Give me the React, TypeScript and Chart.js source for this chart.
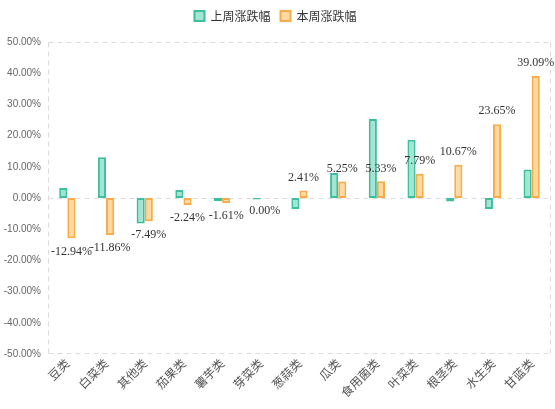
import React, { useEffect, useRef } from "react";
import { Chart, registerables } from "chart.js";

Chart.register(...registerables);

const categories = ["豆类", "白菜类", "其他类", "茄果类", "薯芋类", "芽菜类", "葱蒜类", "瓜类", "食用菌类", "叶菜类", "根茎类", "水生类", "甘蓝类"];
const lastWeek = [3.2, 13.1, -8.2, 2.6, -1.0, -0.5, -3.5, 8.0, 25.3, 18.7, -1.1, -3.5, 9.1];
const thisWeek = [-12.94, -11.86, -7.49, -2.24, -1.61, 0.0, 2.41, 5.25, 5.33, 7.79, 10.67, 23.65, 39.09];
const seriesNames = ["上周涨跌幅", "本周涨跌幅"];
const yMin = -50;
const yMax = 50;
const yStep = 10;

const framePlugin = {
  id: "frame",
  beforeDatasetsDraw(chart: any) {
    const { ctx, chartArea: a, scales } = chart;
    const y0 = Math.round(scales.y.getPixelForValue(0)) + 0.5;
    const l = Math.round(a.left) + 0.5;
    const r = Math.round(a.right) - 0.5;
    const t = Math.round(a.top) + 0.5;
    const b = Math.round(a.bottom) - 0.5;
    ctx.save();
    ctx.strokeStyle = "#dcdcdc";
    ctx.lineWidth = 1;
    ctx.setLineDash([5, 4]);
    ctx.beginPath();
    ctx.moveTo(l, t); ctx.lineTo(r, t);
    ctx.moveTo(l, y0); ctx.lineTo(r, y0);
    ctx.moveTo(l, b); ctx.lineTo(r, b);
    ctx.moveTo(l, t); ctx.lineTo(l, b);
    ctx.moveTo(r, t); ctx.lineTo(r, b);
    ctx.stroke();
    ctx.restore();
  },
};

const legendMargin = {
  id: "legendMargin",
  beforeInit(chart: any) {
    const fit = chart.legend.fit;
    chart.legend.fit = function () {
      fit.bind(chart.legend)();
      this.height += 10;
    };
  },
};

const labelPlugin = {
  id: "barLabels",
  afterDatasetsDraw(chart: any) {
    const { ctx } = chart;
    const meta = chart.getDatasetMeta(1);
    ctx.save();
    ctx.font = "12px 'Liberation Serif', serif";
    ctx.fillStyle = "#333";
    ctx.textAlign = "center";
    meta.data.forEach((el: any, i: number) => {
      const v = thisWeek[i];
      const txt = v.toFixed(2) + "%";
      if (v > 0) {
        ctx.textBaseline = "bottom";
        ctx.fillText(txt, el.x, el.y - 7);
      } else {
        ctx.textBaseline = "top";
        ctx.fillText(txt, el.x, el.y + 7);
      }
    });
    ctx.restore();
  },
};

export default function App() {
  const ref = useRef<HTMLCanvasElement>(null);
  useEffect(() => {
    const chart = new Chart(ref.current!, {
      type: "bar",
      data: {
        labels: categories,
        datasets: [
          {
            label: seriesNames[0],
            data: lastWeek,
            backgroundColor: "#a3e4d3",
            borderColor: "#3cbf9c",
            borderWidth: 2,
            borderSkipped: false,
          },
          {
            label: seriesNames[1],
            data: thisWeek,
            backgroundColor: "#fdd9a2",
            borderColor: "#f9ab48",
            borderWidth: 2,
            borderSkipped: false,
          },
        ],
      },
      options: {
        animation: false,
        responsive: false,
        maintainAspectRatio: false,
        datasets: { bar: { categoryPercentage: 0.42, barPercentage: 1.0 } },
        layout: { padding: { top: 0, right: 4, left: 0, bottom: 0 } },
        plugins: {
          legend: {
            position: "top",
            labels: {
              boxWidth: 10,
              boxHeight: 10,
              padding: 10,
              color: "#333",
              font: { size: 12, family: "'Noto Sans CJK SC', sans-serif" },
            },
          },
          tooltip: { enabled: false },
        },
        scales: {
          x: {
            afterFit: (s: any) => { s.height = 55; },
            ticks: {
              minRotation: 45,
              maxRotation: 45,
              color: "#555",
              font: { size: 12, family: "'Noto Sans CJK SC', sans-serif" },
              padding: 2,
            },
            grid: { display: false, drawTicks: false },
            border: { display: false },
          },
          y: {
            min: yMin,
            max: yMax,
            afterFit: (s: any) => { s.width = 48; },
            ticks: {
              stepSize: yStep,
              color: "#666",
              font: { size: 10, family: "'Liberation Sans', sans-serif" },
              padding: 7,
              callback: (v: any) => Number(v).toFixed(2) + "%",
            },
            grid: { display: false, drawTicks: false },
            border: { display: false },
          },
        },
      },
      plugins: [framePlugin, legendMargin, labelPlugin],
    });
    return () => chart.destroy();
  }, []);
  return (
    <div style={{ position: "fixed", left: 0, top: 0, width: 555, height: 409, background: "#fff" }}>
      <canvas ref={ref} width={555} height={409} />
    </div>
  );
}
